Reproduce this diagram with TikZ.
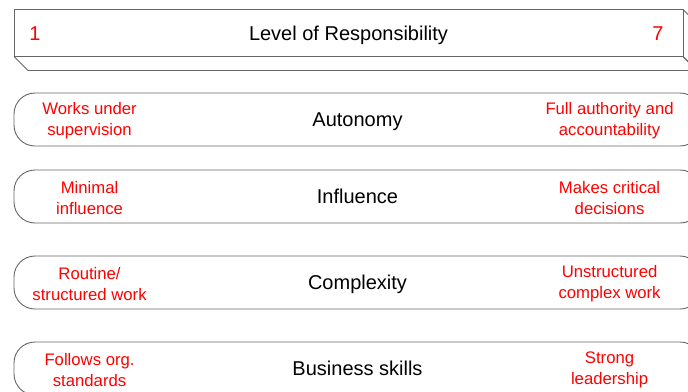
\documentclass[tikz,border=0pt]{standalone}
\usepackage{fontspec}
\setmainfont{Liberation Sans}
\usetikzlibrary{positioning}
\definecolor{framegray}{gray}{0.4}
\tikzset{
    %Define style for the heading box
    headbox/.style={
           rectangle,
           draw=framegray, line width=0.9pt,
           fill=white,
           minimum width=669pt,
           minimum height=47pt,
           text height=18pt, text depth=4pt,
           font=\fontsize{20}{24}\selectfont,
           text centered},
    %Define style for the rounded bars
    bar/.style={
           rectangle,
           rounded corners=21pt,
           draw=framegray, line width=0.9pt,
           minimum width=687pt,
           minimum height=53pt,
           inner sep=0pt,
           text height=18pt, text depth=4pt,
           font=\fontsize{20}{24}\selectfont,
           text centered},
    % Define style for the red end texts
    endtext/.style={
           text=red,
           align=center,
           inner sep=0pt,
           yshift=-1.5pt,
           font=\fontsize{16.7}{21}\selectfont},
    endnum/.style={
           text=red,
           inner sep=0pt,
           text height=18pt, text depth=4pt,
           font=\fontsize{20}{24}\selectfont},
    % Define edge style
    rim/.style={
           draw=framegray,
           line width=0.9pt}
}
\begin{document}
\begin{tikzpicture}[x=1pt,y=-1pt]
\useasboundingbox (0,0) rectangle (688,391);
% heading box with its depth
\draw[rim] (348.5,33) ++(-334.5,23.5) -- ++(14,14) -- ++(669,0) -- ++(-14,-14);
\draw[rim] (348.5,33) ++(334.5,-23.5) -- ++(14,14) -- ++(0,47) -- ++(-14,-14);
\node[headbox] (head) at (348.5,33) {Level of Responsibility};
\node[endnum] (low) at (35,33) {1};
\node[endnum] (high) at (658,33) {7};
% rows
\node[bar] (aut) at (357.5,119.5) {Autonomy};
\node[bar] (inf) at (357.5,196.5) {Influence};
\node[bar] (cpx) at (357.5,282.5) {Complexity};
\node[bar] (bus) at (357.5,368.5) {Business skills};
\node[endtext] (autlo) at ([xshift=76pt]aut.west) {Works under\\supervision};
\node[endtext] (authi) at ([xshift=596pt]aut.west) {Full authority and\\accountability};
\node[endtext] (inflo) at ([xshift=76pt]inf.west) {Minimal\\influence};
\node[endtext] (infhi) at ([xshift=596pt]inf.west) {Makes critical\\decisions};
\node[endtext] (cpxlo) at ([xshift=76pt]cpx.west) {Routine/\\structured work};
\node[endtext] (cpxhi) at ([xshift=596pt]cpx.west) {Unstructured\\complex work};
\node[endtext] (buslo) at ([xshift=76pt]bus.west) {Follows org.\\standards};
\node[endtext] (bushi) at ([xshift=596pt]bus.west) {Strong\\leadership};
\end{tikzpicture}
\end{document}
